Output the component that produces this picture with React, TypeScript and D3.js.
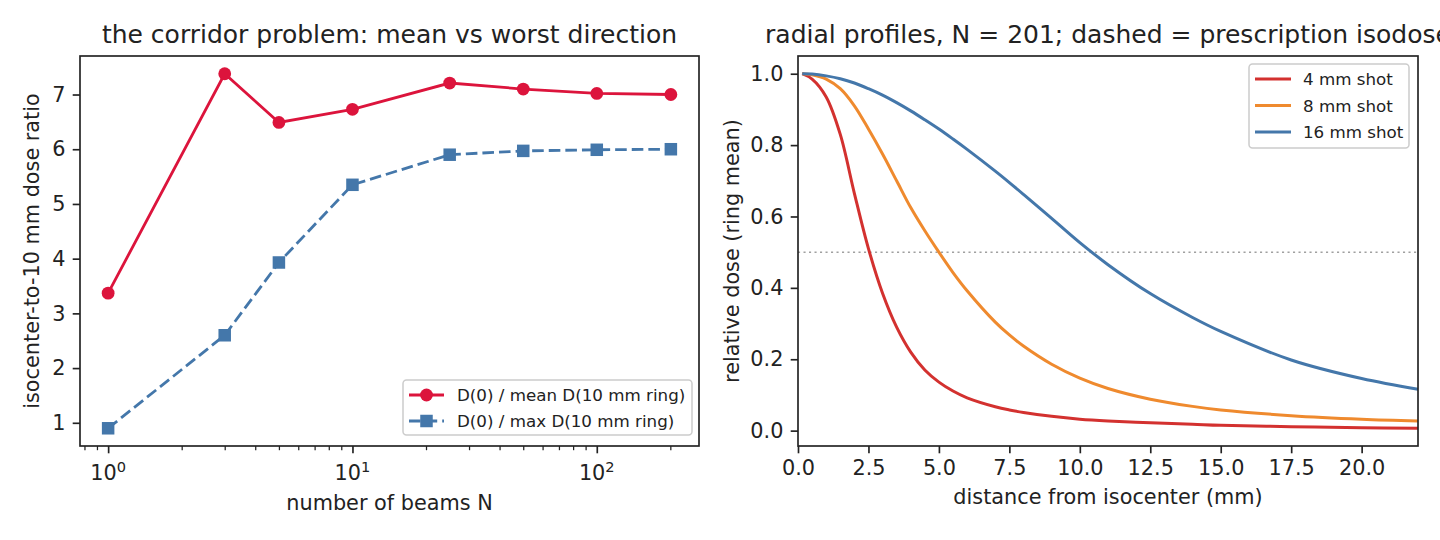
import React, { useEffect, useRef } from "react";
import * as d3 from "d3";

// beam-count sweep: isocenter dose over the 10 mm ring
const beams = [1, 3, 5, 10, 25, 50, 100, 201];
const meanRatio = [3.37, 7.38, 6.49, 6.73, 7.21, 7.1, 7.02, 7.0];
const maxRatio = [0.9, 2.6, 3.93, 5.35, 5.9, 5.97, 5.99, 6.0];
const ratioLabels = ["D(0) / mean D(10 mm ring)", "D(0) / max D(10 mm ring)"];

// radial profiles at N = 201 (ring-mean dose, normalised to the center)
const radius = [0.15, 0.5, 1, 1.5, 2, 2.5, 3, 3.5, 4, 4.5, 5, 5.5, 6, 7, 7.5, 8, 9, 10, 11, 12.5, 14, 15, 17.5, 20, 22];
const dose4 = [1.0, 0.985, 0.935, 0.83, 0.665, 0.51, 0.385, 0.29, 0.22, 0.17, 0.136, 0.111, 0.092, 0.067, 0.058, 0.051, 0.04, 0.032, 0.027, 0.022, 0.018, 0.015, 0.011, 0.008, 0.0066];
const dose8 = [1.0, 0.997, 0.985, 0.958, 0.91, 0.845, 0.775, 0.7, 0.625, 0.56, 0.5, 0.443, 0.392, 0.304, 0.268, 0.237, 0.186, 0.147, 0.118, 0.088, 0.068, 0.058, 0.042, 0.032, 0.027];
const dose16 = [1.0, 0.999, 0.994, 0.986, 0.974, 0.958, 0.94, 0.919, 0.896, 0.871, 0.845, 0.817, 0.788, 0.727, 0.695, 0.662, 0.595, 0.527, 0.465, 0.384, 0.317, 0.278, 0.198, 0.146, 0.116];
const shotLabels = ["4 mm shot", "8 mm shot", "16 mm shot"];
const distTicks = [0, 2.5, 5, 7.5, 10, 12.5, 15, 17.5, 20];
const isodose = 0.5;

const FONT = "DejaVu Sans, Verdana, sans-serif";
const INK = "#222";

export default function App() {
  const ref = useRef<SVGSVGElement>(null);

  useEffect(() => {
    document.body.style.margin = "0";
    const svg = d3.select(ref.current);
    svg.selectAll("*").remove();
    svg.style("font-family", FONT);

    const styleAxis = (g: any, minor = false) => {
      g.select(".domain").remove();
      g.selectAll(".tick line").attr("stroke", INK).attr("stroke-width", minor ? 1.25 : 1.67);
      g.selectAll(".tick text").attr("fill", INK).style("font-size", "20.8px").style("font-family", FONT);
    };

    // ---------- left: ratio vs number of beams ----------
    const L = { x0: 80, x1: 699, y0: 56, y1: 446 };
    const lx = d3.extent(beams).map((v) => Math.log10(v as number));
    const lpad = (lx[1] - lx[0]) * 0.05;
    const xL = d3.scaleLog().domain([10 ** (lx[0] - lpad), 10 ** (lx[1] + lpad)]).range([L.x0, L.x1]);
    const [rlo, rhi] = d3.extent(meanRatio.concat(maxRatio)) as [number, number];
    const rpad = (rhi - rlo) * 0.05;
    const yL = d3.scaleLinear().domain([rlo - rpad, rhi + rpad]).range([L.y1, L.y0]);

    const left = svg.append("g");

    left.append("g")
      .attr("transform", `translate(${L.x0},0)`)
      .call(d3.axisLeft(yL).ticks(7).tickSize(7.3).tickPadding(7.3).tickSizeOuter(0))
      .call((g: any) => styleAxis(g));

    const [d0, d1] = xL.domain();
    const minors: number[] = [];
    for (let e = -1; e <= 3; e++) {
      for (let m = 2; m <= 9; m++) {
        const v = m * 10 ** e;
        if (v >= d0 && v <= d1) minors.push(v);
      }
    }
    const majors = [1, 10, 100].filter((v) => v >= d0 && v <= d1);

    left.append("g")
      .attr("transform", `translate(0,${L.y1})`)
      .call(d3.axisBottom(xL).tickValues(minors).tickSize(4.2).tickFormat(() => "").tickSizeOuter(0))
      .call((g: any) => styleAxis(g, true));
    left.append("g")
      .attr("transform", `translate(0,${L.y1})`)
      .call(d3.axisBottom(xL).tickValues(majors).tickSize(7.3).tickFormat(() => "").tickSizeOuter(0))
      .call((g: any) => styleAxis(g));

    // 10^k labels
    majors.forEach((v) => {
      const t = left.append("text")
        .attr("x", xL(v))
        .attr("y", 480)
        .attr("text-anchor", "middle")
        .attr("fill", INK)
        .style("font-size", "20.8px");
      t.append("tspan").text("10");
      t.append("tspan").attr("dy", -8.5).style("font-size", "14.6px").text(String(Math.round(Math.log10(v))));
    });

    const ratioSeries = [
      { values: meanRatio, color: "#dc143c", dash: null, marker: "circle" },
      { values: maxRatio, color: "#4477aa", dash: "11.6,5", marker: "square" },
    ];

    const drawMarker = (g: any, kind: string, cx: number, cy: number, color: string) => {
      if (kind === "circle") {
        g.append("circle").attr("cx", cx).attr("cy", cy).attr("r", 6.4).attr("fill", color);
      } else {
        g.append("rect").attr("x", cx - 6.25).attr("y", cy - 6.25).attr("width", 12.5).attr("height", 12.5).attr("fill", color);
      }
    };

    ratioSeries.forEach((s) => {
      const line = d3.line<number>().x((_, i) => xL(beams[i])).y((d) => yL(d));
      left.append("path")
        .attr("d", line(s.values))
        .attr("fill", "none")
        .attr("stroke", s.color)
        .attr("stroke-width", 2.8)
        .attr("stroke-dasharray", s.dash);
      s.values.forEach((v, i) => drawMarker(left, s.marker, xL(beams[i]), yL(v), s.color));
    });

    left.append("rect")
      .attr("x", L.x0).attr("y", L.y0)
      .attr("width", L.x1 - L.x0).attr("height", L.y1 - L.y0)
      .attr("fill", "none").attr("stroke", INK).attr("stroke-width", 1.67);

    // legend, lower right
    const lgL = { w: 289, h: 55 };
    const lgLx = L.x1 - 7 - lgL.w;
    const lgLy = L.y1 - 11 - lgL.h;
    const legL = left.append("g");
    legL.append("rect")
      .attr("x", lgLx).attr("y", lgLy).attr("width", lgL.w).attr("height", lgL.h)
      .attr("rx", 3.5).attr("fill", "white").attr("fill-opacity", 0.8)
      .attr("stroke", "#cccccc").attr("stroke-width", 1.5);
    ratioSeries.forEach((s, i) => {
      const cy = lgLy + 15 + i * 26;
      const hx = lgLx + 6;
      legL.append("line")
        .attr("x1", hx).attr("x2", hx + 35).attr("y1", cy).attr("y2", cy)
        .attr("stroke", s.color).attr("stroke-width", 2.8).attr("stroke-dasharray", s.dash);
      drawMarker(legL, s.marker, hx + 17.5, cy, s.color);
      legL.append("text")
        .attr("x", hx + 48).attr("y", cy + 6)
        .attr("fill", INK).style("font-size", "16.7px")
        .text(ratioLabels[i]);
    });

    left.append("text")
      .attr("x", (L.x0 + L.x1) / 2).attr("y", 43)
      .attr("text-anchor", "middle").attr("fill", INK).style("font-size", "25px")
      .text("the corridor problem: mean vs worst direction");
    left.append("text")
      .attr("x", (L.x0 + L.x1) / 2).attr("y", 510)
      .attr("text-anchor", "middle").attr("fill", INK).style("font-size", "20.8px")
      .text("number of beams N");
    const lyc = (L.y0 + L.y1) / 2;
    left.append("text")
      .attr("transform", `translate(39,${lyc}) rotate(-90)`)
      .attr("text-anchor", "middle").attr("fill", INK).style("font-size", "20.8px")
      .text("isocenter-to-10 mm dose ratio");

    // ---------- right: radial profiles ----------
    const R = { x0: 798, x1: 1418, y0: 56, y1: 446 };
    const xR = d3.scaleLinear().domain([0, 22]).range([R.x0, R.x1]);
    const [dlo, dhi] = d3.extent(dose4.concat(dose8, dose16)) as [number, number];
    const dpad = (dhi - dlo) * 0.05;
    const yR = d3.scaleLinear().domain([dlo - dpad, dhi + dpad]).range([R.y1, R.y0]);

    const right = svg.append("g");

    right.append("g")
      .attr("transform", `translate(${R.x0},0)`)
      .call(d3.axisLeft(yR).ticks(5).tickFormat(d3.format(".1f")).tickSize(7.3).tickPadding(7.3).tickSizeOuter(0))
      .call((g: any) => styleAxis(g));
    right.append("g")
      .attr("transform", `translate(0,${R.y1})`)
      .call(d3.axisBottom(xR).tickValues(distTicks).tickFormat(d3.format(".1f")).tickSize(7.3).tickPadding(7.3).tickSizeOuter(0))
      .call((g: any) => styleAxis(g));

    right.append("line")
      .attr("x1", R.x0).attr("x2", R.x1)
      .attr("y1", yR(isodose)).attr("y2", yR(isodose))
      .attr("stroke", "#a0a0a0").attr("stroke-width", 1.5).attr("stroke-dasharray", "2.1,3.4");

    const profiles = [
      { values: dose4, color: "#d3312f" },
      { values: dose8, color: "#ef8a2e" },
      { values: dose16, color: "#4477aa" },
    ];
    const profLine = d3.line<number>()
      .x((_, i) => xR(radius[i]))
      .y((d) => yR(d))
      .curve(d3.curveCatmullRom.alpha(0.5));
    profiles.forEach((p) => {
      right.append("path")
        .attr("d", profLine(p.values))
        .attr("fill", "none")
        .attr("stroke", p.color)
        .attr("stroke-width", 3);
    });

    right.append("rect")
      .attr("x", R.x0).attr("y", R.y0)
      .attr("width", R.x1 - R.x0).attr("height", R.y1 - R.y0)
      .attr("fill", "none").attr("stroke", INK).attr("stroke-width", 1.67);

    // legend, upper right
    const lgR = { w: 160, h: 84 };
    const lgRx = R.x1 - 9 - lgR.w;
    const lgRy = R.y0 + 8;
    const legR = right.append("g");
    legR.append("rect")
      .attr("x", lgRx).attr("y", lgRy).attr("width", lgR.w).attr("height", lgR.h)
      .attr("rx", 3.5).attr("fill", "white").attr("fill-opacity", 0.8)
      .attr("stroke", "#cccccc").attr("stroke-width", 1.5);
    profiles.forEach((p, i) => {
      const cy = lgRy + 15 + i * 26.5;
      const hx = lgRx + 6;
      legR.append("line")
        .attr("x1", hx).attr("x2", hx + 36).attr("y1", cy).attr("y2", cy)
        .attr("stroke", p.color).attr("stroke-width", 3);
      legR.append("text")
        .attr("x", hx + 48).attr("y", cy + 6)
        .attr("fill", INK).style("font-size", "16.7px")
        .text(shotLabels[i]);
    });

    right.append("text")
      .attr("x", (R.x0 + R.x1) / 2).attr("y", 43)
      .attr("text-anchor", "middle").attr("fill", INK).style("font-size", "25px")
      .text("radial profiles, N = 201; dashed = prescription isodose");
    right.append("text")
      .attr("x", (R.x0 + R.x1) / 2).attr("y", 504)
      .attr("text-anchor", "middle").attr("fill", INK).style("font-size", "20.8px")
      .text("distance from isocenter (mm)");
    const ryc = (R.y0 + R.y1) / 2;
    right.append("text")
      .attr("transform", `translate(739,${ryc}) rotate(-90)`)
      .attr("text-anchor", "middle").attr("fill", INK).style("font-size", "20.8px")
      .text("relative dose (ring mean)");
  }, []);

  return <svg ref={ref} width={1440} height={540} style={{ display: "block", background: "white" }} />;
}
